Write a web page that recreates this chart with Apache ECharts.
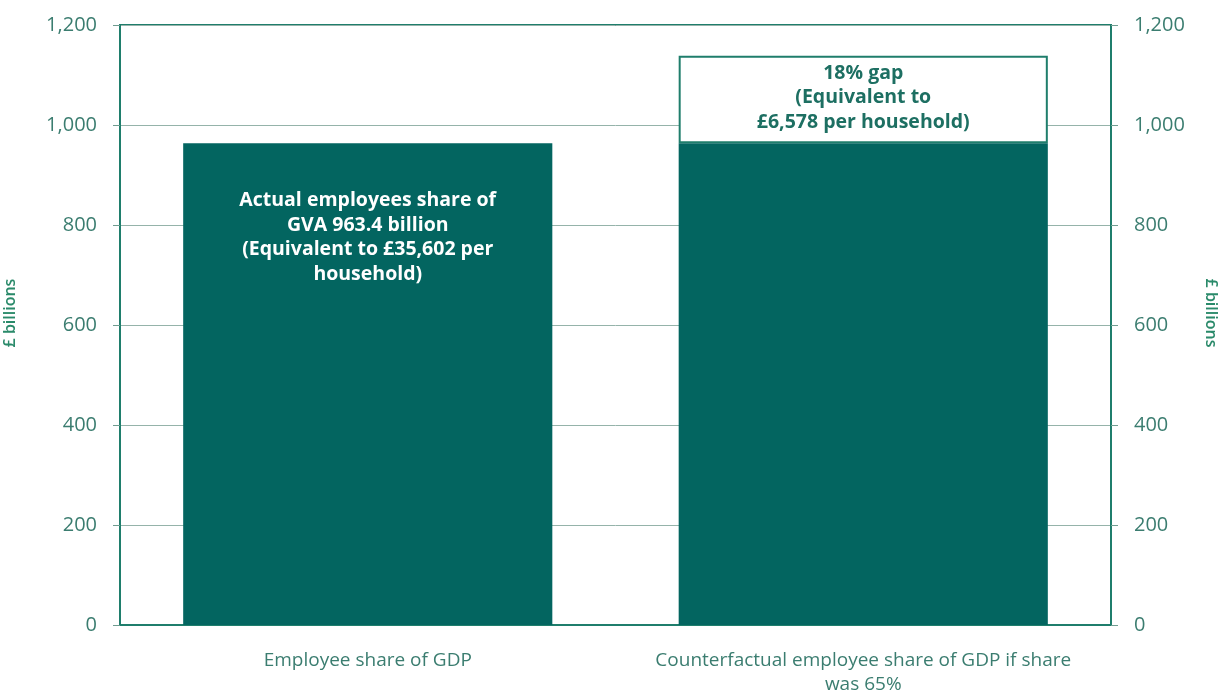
<!DOCTYPE html>
<html>
<head>
<meta charset="utf-8">
<script src="https://cdn.jsdelivr.net/npm/echarts@6/dist/echarts.min.js"></script>
<style>
  html, body { margin: 0; padding: 0; background: #ffffff; }
  #chart { width: 1230px; height: 695px; }
</style>
</head>
<body>
<div id="chart"></div>
<script>
// Employee share of GVA vs counterfactual share at 65%
const categories = ['Employee share of GDP', 'Counterfactual employee share of GDP if share\nwas 65%'];
const actualShare = [963.4, 963.4];        // £ billions
const gapToCounterfactual = [null, 175.2]; // £ billions, 18% gap
const yTicks = { min: 0, max: 1200, interval: 200 };

const labelActual = 'Actual employees share of\nGVA 963.4 billion\n(Equivalent to £35,602 per\nhousehold)';
const labelGap = '18% gap\n(Equivalent to\n£6,578 per household)';

const teal = '#036560';
const textTeal = '#3b7d70';
const font = '"Open Sans", Lato, sans-serif';

const chart = echarts.init(document.getElementById('chart'));

const yAxisBase = {
  type: 'value',
  min: yTicks.min,
  max: yTicks.max,
  interval: yTicks.interval,
  name: '£ billions',
  nameLocation: 'middle',
  axisLine: { show: true, lineStyle: { color: '#1f7e6c', width: 2 } },
  axisTick: { show: true, length: 7, lineStyle: { color: '#6f9c90', width: 1 } },
  axisLabel: {
    margin: 23,
    color: textTeal,
    fontSize: 20,
    fontFamily: font,
    formatter: v => v.toLocaleString('en-GB')
  }
};
const nameStyle = { color: '#2a8a6a', fontSize: 16, fontWeight: 600, fontFamily: font };

chart.setOption({
  backgroundColor: '#ffffff',
  animation: false,
  grid: {
    left: 120, right: 119, top: 25, bottom: 70,
    show: true, borderColor: '#1f7e6c', borderWidth: 2,
    containLabel: false, outerBoundsMode: 'none'
  },
  xAxis: {
    type: 'category',
    data: categories,
    axisLine: { show: true, lineStyle: { color: '#1f7e6c', width: 2 } },
    axisTick: { show: false },
    axisLabel: {
      interval: 0,
      margin: 24, color: textTeal, fontSize: 19, fontFamily: font, lineHeight: 24
    }
  },
  yAxis: [
    Object.assign({}, yAxisBase, {
      position: 'left',
      nameGap: 102,
      nameRotate: 90,
      nameTextStyle: Object.assign({ padding: [0, 0, 0, 24] }, nameStyle),
      splitLine: { show: true, lineStyle: { color: '#95b3aa', width: 1 } }
    }),
    Object.assign({}, yAxisBase, {
      position: 'right',
      nameGap: 92,
      nameRotate: -90,
      nameTextStyle: Object.assign({ padding: [0, 24, 0, 0] }, nameStyle),
      splitLine: { show: false }
    })
  ],
  series: [
    {
      type: 'bar',
      stack: 'total',
      data: actualShare.map((v, i) => ({
        value: v,
        label: i === 0 ? {
          show: true,
          position: 'insideTop',
          distance: 45,
          formatter: labelActual,
          color: '#ffffff',
          fontSize: 19.5,
          fontWeight: 'bold',
          fontFamily: font,
          lineHeight: 24.5,
          align: 'center'
        } : { show: false }
      })),
      barWidth: '74.5%',
      itemStyle: { color: teal }
    },
    {
      type: 'bar',
      stack: 'total',
      data: gapToCounterfactual,
      barWidth: '74.5%',
      itemStyle: { color: '#ffffff', borderColor: '#1f7e6c', borderWidth: 2 },
      label: {
        show: true,
        position: 'insideTop',
        distance: 5,
        formatter: labelGap,
        color: '#1d6f62',
        fontSize: 19.5,
        fontWeight: 'bold',
        fontFamily: font,
        lineHeight: 24.5,
        align: 'center'
      },
      z: 1
    }
  ]
});
</script>
</body>
</html>
